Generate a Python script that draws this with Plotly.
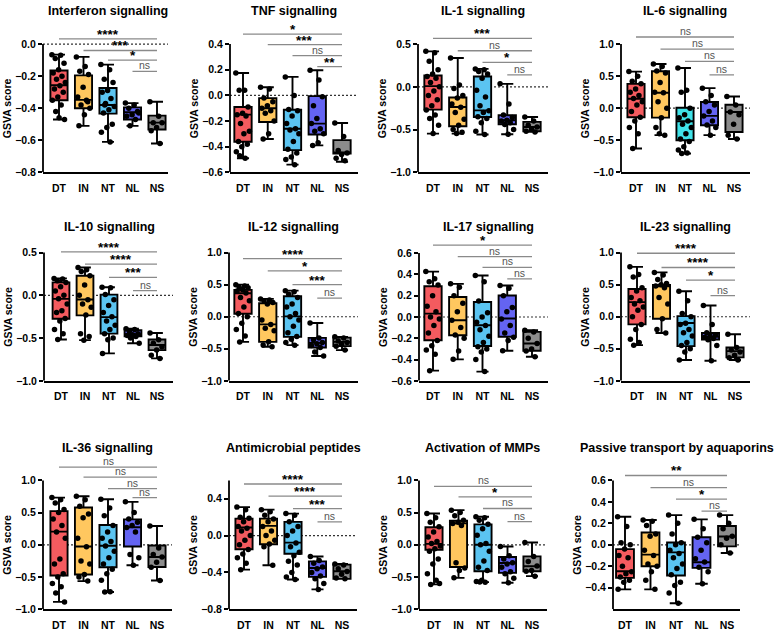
import plotly.graph_objects as go

GROUPS = ["DT", "IN", "NT", "NL", "NS"]
COLORS = ["#F45B5F", "#FFC75F", "#5BC4F1", "#6464F2", "#8C8C8C"]
IL6_COLORS = ["#F45B5F", "#FFC75F", "#40E2E8", "#6464F2", "#8C8C8C"]

TITLES = ["Interferon signalling", "TNF signalling", "IL-1 signalling", "IL-6 signalling",
          "IL-10 signalling", "IL-12 signalling", "IL-17 signalling", "IL-23 signalling",
          "IL-36 signalling", "Antimicrobial peptides", "Activation of MMPs",
          "Passive transport by aquaporins"]

# ---- box statistics per group: [min, q1, median, q3, max] ----
ifn_stats = [[-0.47, -0.35, -0.257, -0.165, -0.066], [-0.51, -0.40, -0.348, -0.195, -0.08],
             [-0.61, -0.434, -0.38, -0.274, -0.128], [-0.51, -0.47, -0.425, -0.395, -0.368],
             [-0.62, -0.533, -0.49, -0.446, -0.36]]
tnf_stats = [[-0.49, -0.362, -0.15, -0.091, 0.175], [-0.34, -0.207, -0.10, -0.021, 0.064],
             [-0.54, -0.427, -0.26, -0.112, 0.144], [-0.39, -0.305, -0.22, -0.006, 0.196],
             [-0.517, -0.453, -0.445, -0.349, -0.215]]
il1_stats = [[-0.547, -0.267, 0.008, 0.132, 0.415], [-0.547, -0.461, -0.236, -0.124, 0.337],
             [-0.558, -0.353, -0.275, 0.12, 0.21], [-0.554, -0.438, -0.39, -0.333, 0.035],
             [-0.527, -0.519, -0.47, -0.41, -0.353]]
il6_stats = [[-0.628, -0.142, 0.147, 0.38, 0.571], [-0.42, -0.147, 0.24, 0.576, 0.69],
             [-0.705, -0.499, -0.204, 0.008, 0.628], [-0.42, -0.266, -0.12, 0.096, 0.313],
             [-0.48, -0.37, -0.06, 0.054, 0.183]]
il10_stats = [[-0.517, -0.273, -0.041, 0.152, 0.198], [-0.524, -0.234, -0.049, 0.229, 0.326],
              [-0.679, -0.447, -0.254, 0.009, 0.094], [-0.56, -0.478, -0.455, -0.408, -0.39],
              [-0.737, -0.64, -0.58, -0.517, -0.44]]
il12_stats = [[-0.392, 0.046, 0.366, 0.418, 0.5], [-0.469, -0.392, -0.119, 0.211, 0.278],
              [-0.443, -0.314, 0.005, 0.32, 0.407], [-0.613, -0.479, -0.407, -0.33, -0.098],
              [-0.52, -0.459, -0.392, -0.325, -0.314]]
il17_stats = [[-0.504, -0.218, 0.031, 0.289, 0.426], [-0.398, -0.171, -0.031, 0.187, 0.311],
              [-0.513, -0.273, -0.078, 0.14, 0.389], [-0.317, -0.186, -0.015, 0.202, 0.295],
              [-0.373, -0.317, -0.249, -0.14, -0.124]]
il23_stats = [[-0.443, -0.119, 0.227, 0.433, 0.778], [-0.253, -0.031, 0.474, 0.495, 0.691],
              [-0.675, -0.459, -0.098, 0.01, 0.397], [-0.686, -0.356, -0.314, -0.253, 0.175],
              [-0.675, -0.634, -0.536, -0.479, -0.273]]
il36_stats = [[-0.887, -0.477, 0.205, 0.523, 0.733], [-0.564, -0.462, -0.026, 0.579, 0.754],
              [-0.733, -0.349, -0.015, 0.308, 0.708], [-0.318, -0.026, 0.272, 0.395, 0.667],
              [-0.554, -0.344, -0.19, -0.01, 0.292]]
amp_stats = [[-0.37, -0.148, 0.088, 0.185, 0.31], [-0.323, -0.094, 0.106, 0.185, 0.282],
             [-0.477, -0.198, -0.076, 0.149, 0.239], [-0.585, -0.449, -0.352, -0.28, -0.227],
             [-0.47, -0.47, -0.388, -0.316, -0.309]]
mmp_stats = [[-0.615, -0.077, 0.015, 0.272, 0.487], [-0.513, -0.344, 0.333, 0.374, 0.538],
             [-0.579, -0.41, 0.0, 0.318, 0.436], [-0.59, -0.436, -0.282, -0.19, -0.026],
             [-0.487, -0.41, -0.333, -0.179, 0.036]]
aqp_stats = [[-0.415, -0.308, -0.246, -0.04, 0.262], [-0.415, -0.2, -0.092, 0.114, 0.231],
             [-0.545, -0.286, -0.071, 0.022, 0.277], [-0.363, -0.215, -0.163, 0.071, 0.237],
             [-0.077, -0.015, 0.077, 0.175, 0.277]]

# ---- individual sample points per group ----
ifn_points = [[-0.066, -0.07, -0.09, -0.12, -0.16, -0.18, -0.20, -0.22, -0.24, -0.26, -0.28, -0.30, -0.33, -0.35, -0.38, -0.42, -0.47, -0.46],
              [-0.08, -0.14, -0.17, -0.19, -0.27, -0.33, -0.35, -0.38, -0.40, -0.44, -0.51, -0.36],
              [-0.128, -0.16, -0.22, -0.24, -0.29, -0.30, -0.34, -0.37, -0.39, -0.41, -0.43, -0.50, -0.52, -0.55, -0.61, -0.38],
              [-0.368, -0.38, -0.40, -0.42, -0.44, -0.45, -0.47, -0.51, -0.43],
              [-0.36, -0.45, -0.49, -0.49, -0.52, -0.54, -0.62]]
tnf_points = [[0.175, 0.04, 0.04, -0.09, -0.14, -0.15, -0.16, -0.22, -0.28, -0.30, -0.36, -0.38, -0.40, -0.44, -0.49, -0.47],
              [0.064, 0.05, -0.02, -0.05, -0.08, -0.10, -0.12, -0.14, -0.20, -0.30, -0.34],
              [0.144, 0.0, -0.11, -0.12, -0.16, -0.22, -0.26, -0.27, -0.30, -0.36, -0.42, -0.45, -0.48, -0.50, -0.54],
              [0.196, 0.12, -0.08, -0.01, -0.18, -0.22, -0.26, -0.28, -0.30, -0.37, -0.39],
              [-0.215, -0.32, -0.43, -0.45, -0.46, -0.49, -0.51]]
il1_points = [[0.415, 0.40, 0.30, 0.20, 0.15, 0.12, 0.10, 0.05, 0.0, -0.05, -0.10, -0.15, -0.22, -0.27, -0.33, -0.37, -0.45, -0.547],
              [0.337, 0.02, -0.02, -0.10, -0.13, -0.20, -0.24, -0.30, -0.38, -0.45, -0.50, -0.53, -0.547],
              [0.21, 0.20, 0.18, 0.15, 0.10, -0.04, -0.12, -0.22, -0.28, -0.30, -0.35, -0.37, -0.42, -0.52, -0.558],
              [0.035, -0.20, -0.33, -0.36, -0.39, -0.40, -0.42, -0.44, -0.50, -0.554],
              [-0.353, -0.40, -0.45, -0.47, -0.50, -0.52, -0.527]]
il6_points = [[0.571, 0.50, 0.42, 0.38, 0.30, 0.25, 0.20, 0.15, 0.10, 0.05, -0.05, -0.14, -0.20, -0.30, -0.40, -0.628],
              [0.69, 0.65, 0.58, 0.55, 0.40, 0.25, 0.24, 0.10, 0.00, -0.15, -0.30, -0.42, -0.40],
              [0.628, 0.28, 0.25, 0.0, -0.10, -0.15, -0.20, -0.25, -0.30, -0.40, -0.48, -0.52, -0.60, -0.65, -0.70, -0.705],
              [0.313, 0.20, 0.10, 0.05, -0.05, -0.12, -0.20, -0.26, -0.30, -0.42],
              [0.183, 0.05, -0.06, -0.10, -0.25, -0.42, -0.48]]
il10_points = [[0.198, 0.19, 0.17, 0.15, 0.10, 0.05, 0.0, -0.04, -0.10, -0.18, -0.20, -0.27, -0.30, -0.40, -0.45, -0.517],
               [0.326, 0.30, 0.28, 0.23, 0.12, 0.0, -0.05, -0.10, -0.14, -0.23, -0.45, -0.48, -0.524],
               [0.094, 0.09, 0.01, -0.05, -0.12, -0.20, -0.25, -0.30, -0.35, -0.40, -0.45, -0.50, -0.52, -0.679],
               [-0.39, -0.40, -0.42, -0.45, -0.46, -0.47, -0.48, -0.50, -0.56],
               [-0.44, -0.52, -0.56, -0.60, -0.64, -0.70, -0.737]]
il12_points = [[0.5, 0.48, 0.46, 0.45, 0.42, 0.40, 0.37, 0.30, 0.25, 0.15, 0.05, 0.0, -0.10, -0.20, -0.30, -0.392],
               [0.278, 0.26, 0.25, 0.22, 0.20, -0.05, -0.12, -0.18, -0.22, -0.39, -0.44, -0.469],
               [0.407, 0.39, 0.35, 0.30, 0.20, 0.15, 0.05, 0.0, -0.05, -0.15, -0.25, -0.31, -0.35, -0.40, -0.443],
               [-0.098, -0.33, -0.36, -0.40, -0.42, -0.45, -0.48, -0.55, -0.613],
               [-0.314, -0.33, -0.38, -0.40, -0.43, -0.46, -0.52]]
il17_points = [[0.426, 0.36, 0.33, 0.30, 0.20, 0.10, 0.05, 0.0, -0.02, -0.08, -0.15, -0.22, -0.27, -0.31, -0.35, -0.504],
               [0.311, 0.28, 0.20, 0.13, 0.05, -0.03, -0.10, -0.17, -0.20, -0.32, -0.398],
               [0.389, 0.33, 0.15, 0.04, 0.0, -0.05, -0.08, -0.12, -0.18, -0.24, -0.28, -0.30, -0.33, -0.40, -0.513],
               [0.295, 0.27, 0.20, 0.09, 0.05, -0.02, -0.08, -0.15, -0.19, -0.22, -0.317],
               [-0.124, -0.14, -0.20, -0.25, -0.30, -0.32, -0.373]]
il23_points = [[0.778, 0.66, 0.62, 0.45, 0.40, 0.30, 0.25, 0.20, 0.15, 0.10, 0.00, -0.12, -0.20, -0.35, -0.40, -0.443],
               [0.691, 0.65, 0.58, 0.52, 0.50, 0.48, 0.45, 0.30, 0.20, -0.03, -0.20, -0.253],
               [0.397, 0.25, 0.05, 0.0, -0.10, -0.12, -0.20, -0.25, -0.30, -0.40, -0.45, -0.50, -0.55, -0.675],
               [0.175, -0.12, -0.25, -0.28, -0.30, -0.32, -0.34, -0.36, -0.45, -0.686],
               [-0.273, -0.48, -0.52, -0.55, -0.60, -0.64, -0.675]]
il36_points = [[0.733, 0.70, 0.65, 0.55, 0.50, 0.40, 0.30, 0.20, 0.10, -0.22, -0.30, -0.45, -0.50, -0.60, -0.65, -0.75, -0.887],
               [0.754, 0.70, 0.60, 0.48, 0.42, 0.10, -0.03, -0.25, -0.30, -0.46, -0.50, -0.564],
               [0.708, 0.57, 0.45, 0.30, 0.20, 0.10, 0.05, -0.02, -0.10, -0.20, -0.30, -0.38, -0.45, -0.55, -0.73, -0.733],
               [0.667, 0.50, 0.40, 0.35, 0.30, 0.27, 0.20, -0.15, -0.20, -0.318],
               [0.292, -0.05, -0.15, -0.19, -0.27, -0.35, -0.554]]
amp_points = [[0.31, 0.28, 0.20, 0.19, 0.15, 0.10, 0.08, 0.05, 0.0, -0.05, -0.10, -0.15, -0.20, -0.24, -0.30, -0.37],
              [0.282, 0.26, 0.22, 0.18, 0.15, 0.10, 0.05, 0.0, -0.05, -0.09, -0.12, -0.323],
              [0.239, 0.22, 0.15, 0.10, 0.05, 0.0, -0.08, -0.12, -0.18, -0.22, -0.28, -0.32, -0.40, -0.45, -0.477],
              [-0.227, -0.27, -0.30, -0.34, -0.36, -0.40, -0.44, -0.47, -0.52, -0.585],
              [-0.309, -0.32, -0.36, -0.39, -0.42, -0.46, -0.47]]
mmp_points = [[0.487, 0.42, 0.35, 0.28, 0.20, 0.12, 0.05, 0.02, -0.02, -0.06, -0.10, -0.22, -0.30, -0.45, -0.55, -0.615, -0.60],
              [0.538, 0.50, 0.45, 0.38, 0.35, 0.33, 0.30, -0.28, -0.36, -0.40, -0.513],
              [0.436, 0.42, 0.38, 0.32, 0.25, 0.15, 0.02, 0.0, -0.10, -0.25, -0.35, -0.40, -0.55, -0.57, -0.58, -0.579],
              [-0.026, -0.17, -0.22, -0.28, -0.30, -0.35, -0.42, -0.45, -0.52, -0.59],
              [0.036, -0.18, -0.26, -0.33, -0.40, -0.41, -0.487]]
aqp_points = [[0.262, 0.17, 0.02, 0.0, -0.04, -0.10, -0.12, -0.20, -0.25, -0.27, -0.30, -0.33, -0.35, -0.415],
              [0.231, 0.22, 0.18, 0.10, 0.08, -0.05, -0.10, -0.18, -0.20, -0.25, -0.33, -0.415],
              [0.277, 0.20, 0.10, 0.02, 0.0, -0.05, -0.08, -0.12, -0.18, -0.22, -0.28, -0.35, -0.38, -0.45, -0.545],
              [0.237, 0.15, 0.07, 0.02, -0.05, -0.13, -0.16, -0.21, -0.25, -0.363],
              [0.277, 0.20, 0.15, 0.08, 0.06, 0.0, -0.077]]

# ---- significance brackets: (from group index, to NS, level, label) ----
ifn_sig = [(0, 0.033, "****"), (1, -0.04, "***"), (2, -0.10, "*"), (3, -0.17, "ns")]
tnf_sig = [(0, 0.478, "*"), (1, 0.395, "***"), (2, 0.31, "ns"), (3, 0.224, "**")]
il1_sig = [(0, 0.566, "***"), (1, 0.422, "ns"), (2, 0.287, "*"), (3, 0.14, "ns")]
il6_sig = [(0, 1.11, "ns"), (1, 0.92, "ns"), (2, 0.73, "ns"), (3, 0.52, "ns")]
il10_sig = [(0, 0.508, "****"), (1, 0.365, "****"), (2, 0.21, "***"), (3, 0.055, "ns")]
il12_sig = [(0, 0.907, "****"), (1, 0.716, "*"), (2, 0.5, "***"), (3, 0.289, "ns")]
il17_sig = [(0, 0.675, "*"), (1, 0.566, "ns"), (2, 0.466, "ns"), (3, 0.358, "ns")]
il23_sig = [(0, 0.99, "****"), (1, 0.768, "****"), (2, 0.572, "*"), (3, 0.33, "ns")]
il36_sig = [(0, 1.205, "ns"), (1, 1.051, "ns"), (2, 0.872, "ns"), (3, 0.733, "ns")]
amp_sig = [(0, 0.561, "****"), (1, 0.429, "****"), (2, 0.293, "***"), (3, 0.149, "ns")]
mmp_sig = [(0, 0.908, "ns"), (1, 0.744, "*"), (2, 0.564, "ns"), (3, 0.359, "ns")]
aqp_sig = [(0, 0.646, "**"), (1, 0.532, "ns"), (2, 0.425, "*"), (3, 0.314, "ns")]

# ---- axis extents and tick values ----
ifn_axis, ifn_ticks = (-0.8, 0.0), [-0.8, -0.6, -0.4, -0.2, 0.0]
tnf_axis, tnf_ticks = (-0.6, 0.4), [-0.6, -0.4, -0.2, 0.0, 0.2, 0.4]
il1_axis, il1_ticks = (-1.0, 0.5), [-1.0, -0.5, 0.0, 0.5]
il6_axis, il6_ticks = (-1.0, 1.0), [-1.0, -0.5, 0.0, 0.5, 1.0]
il10_axis, il10_ticks = (-1.0, 0.5), [-1.0, -0.5, 0.0, 0.5]
il12_axis, il12_ticks = (-1.0, 1.0), [-1.0, -0.5, 0.0, 0.5, 1.0]
il17_axis, il17_ticks = (-0.6, 0.6), [-0.6, -0.4, -0.2, 0.0, 0.2, 0.4, 0.6]
il23_axis, il23_ticks = (-1.0, 1.0), [-1.0, -0.5, 0.0, 0.5, 1.0]
il36_axis, il36_ticks = (-1.0, 1.0), [-1.0, -0.5, 0.0, 0.5, 1.0]
amp_axis, amp_ticks = (-0.8, 0.6), [-0.8, -0.4, 0.0, 0.4]
mmp_axis, mmp_ticks = (-1.0, 1.0), [-1.0, -0.5, 0.0, 0.5, 1.0]
aqp_axis, aqp_ticks = (-0.6, 0.6), [-0.4, -0.2, 0.0, 0.2, 0.4, 0.6]

panels = [
    (ifn_stats, ifn_points, ifn_sig, ifn_axis, ifn_ticks, COLORS),
    (tnf_stats, tnf_points, tnf_sig, tnf_axis, tnf_ticks, COLORS),
    (il1_stats, il1_points, il1_sig, il1_axis, il1_ticks, COLORS),
    (il6_stats, il6_points, il6_sig, il6_axis, il6_ticks, IL6_COLORS),
    (il10_stats, il10_points, il10_sig, il10_axis, il10_ticks, COLORS),
    (il12_stats, il12_points, il12_sig, il12_axis, il12_ticks, COLORS),
    (il17_stats, il17_points, il17_sig, il17_axis, il17_ticks, COLORS),
    (il23_stats, il23_points, il23_sig, il23_axis, il23_ticks, COLORS),
    (il36_stats, il36_points, il36_sig, il36_axis, il36_ticks, COLORS),
    (amp_stats, amp_points, amp_sig, amp_axis, amp_ticks, COLORS),
    (mmp_stats, mmp_points, mmp_sig, mmp_axis, mmp_ticks, COLORS),
    (aqp_stats, aqp_points, aqp_sig, aqp_axis, aqp_ticks, COLORS),
]

# ---- pixel geometry (layout only): axis left, right, DT centre, NS centre, top, bottom ----
W, H = 775, 635
GEOM = [
    (43, 168, 59, 157, 44.5, 174), (230, 358, 243, 342, 44.5, 174),
    (418, 548, 433, 532, 44.5, 174), (621, 750, 636, 734, 44.5, 174),
    (44, 173, 61, 157, 255, 384.5), (229, 358, 243, 342, 255, 384.5),
    (419, 548, 433, 532, 255.5, 384.5), (621, 750, 637, 735, 255, 384.5),
    (43, 172, 59, 157, 485, 615), (229, 357, 244, 342, 485, 615),
    (419, 547, 434, 532, 485, 615), (613, 740, 625, 727, 485, 615),
]
TITLE_POS = [(108, 11), (294, 11), (483, 11), (685, 11),
             (109, 229), (293, 229), (488, 229), (685, 229),
             (108, 452), (293, 452), (483, 452), (677, 452)]
EXT = 28  # px of headroom above axis for brackets

FONT = "Liberation Sans, Arial, sans-serif"
fig = go.Figure()
shapes, annotations = [], []
layout = dict(width=W, height=H, margin=dict(l=0, r=0, t=0, b=0),
              paper_bgcolor="white", plot_bgcolor="white", showlegend=False,
              font=dict(family=FONT, color="black"))

for p, (stats, points, sig, (lo, hi), ticks, cols) in enumerate(panels):
    n = p + 1
    xa, ya = ("x" if n == 1 else f"x{n}"), ("y" if n == 1 else f"y{n}")
    xkey, ykey = ("xaxis" if n == 1 else f"xaxis{n}"), ("yaxis" if n == 1 else f"yaxis{n}")
    left, right, dtx, nsx, top, bot = GEOM[p]
    sp = (nsx - dtx) / 4.0
    xr = [(left - dtx) / sp, (right - dtx) / sp]
    hpx = bot - top
    hi_ext = hi + (hi - lo) * EXT / hpx

    layout[xkey] = dict(domain=[left / W, right / W], anchor=ya, range=xr,
                        tickvals=list(range(5)), ticktext=GROUPS, ticks="",
                        ticklabelstandoff=5,
                        showline=True, linecolor="black", linewidth=1.8,
                        showgrid=False, zeroline=False,
                        tickfont=dict(size=10.5, family=FONT, weight="bold", color="black"))
    layout[ykey] = dict(domain=[(H - bot) / H, (H - (top - EXT)) / H], anchor=xa,
                        range=[lo, hi_ext], tickvals=ticks, tickformat=".1f",
                        ticks="outside", ticklen=4, tickwidth=1.6, tickcolor="black",
                        showline=False, showgrid=False, zeroline=False,
                        tickfont=dict(size=10.5, family=FONT, weight="bold", color="black"))

    # boxes
    for g in range(5):
        mn, q1, med, q3, mx = stats[g]
        fig.add_trace(go.Box(x=[g], q1=[q1], median=[med], q3=[q3],
                             lowerfence=[mn], upperfence=[mx], orientation="v",
                             width=0.7, whiskerwidth=0.7, boxpoints=False,
                             fillcolor=cols[g], line=dict(color="black", width=1.9),
                             xaxis=xa, yaxis=ya, hoverinfo="skip"))
    # points
    px, py = [], []
    for g in range(5):
        for k, v in enumerate(points[g]):
            px.append(g + (((k * 0.6180339887) % 1.0) - 0.5) * 0.58)
            py.append(v)
    fig.add_trace(go.Scatter(x=px, y=py, mode="markers", xaxis=xa, yaxis=ya,
                             marker=dict(color="black", size=5.5), hoverinfo="skip"))

    # y axis line limited to labelled extent
    shapes.append(dict(type="line", xref=f"{xa} domain", yref=ya, x0=0, x1=0, y0=lo, y1=hi,
                       line=dict(color="black", width=1.8)))
    # dotted zero line
    shapes.append(dict(type="line", xref=f"{xa} domain", yref=ya, x0=0, x1=1, y0=0, y1=0,
                       layer="below", line=dict(color="#333333", width=1.2, dash="2px,2px")))
    # significance brackets
    for (g0, lvl, lab) in sig:
        shapes.append(dict(type="line", xref=xa, yref=ya, x0=g0, x1=4, y0=lvl, y1=lvl,
                           line=dict(color="#8a8a8a", width=1.3)))
        if lab == "ns":
            annotations.append(dict(x=(g0 + 4) / 2, y=lvl, xref=xa, yref=ya, text=lab,
                                    showarrow=False, yanchor="bottom", yshift=-2,
                                    font=dict(size=10.5, family=FONT, color="#555555")))
        else:
            annotations.append(dict(x=(g0 + 4) / 2, y=lvl, xref=xa, yref=ya, text=lab,
                                    showarrow=False, yanchor="bottom", yshift=-5,
                                    font=dict(size=13.5, family=FONT, color="black", weight="bold")))
    # title
    tx, ty = TITLE_POS[p]
    annotations.append(dict(x=tx / W, y=(H - ty) / H, xref="paper", yref="paper",
                            text=TITLES[p], showarrow=False, xanchor="center", yanchor="middle",
                            font=dict(size=12.5, family=FONT, color="black", weight="bold")))
    # y axis label
    annotations.append(dict(x=(left - 36) / W, y=(H - (top + bot) / 2) / H, xref="paper",
                            yref="paper", text="GSVA score", textangle=-90, showarrow=False,
                            xanchor="center", yanchor="middle",
                            font=dict(size=10.5, family=FONT, color="black", weight="bold")))

layout["shapes"] = shapes
layout["annotations"] = annotations
fig.update_layout(**layout)
fig.write_html("out.html")
